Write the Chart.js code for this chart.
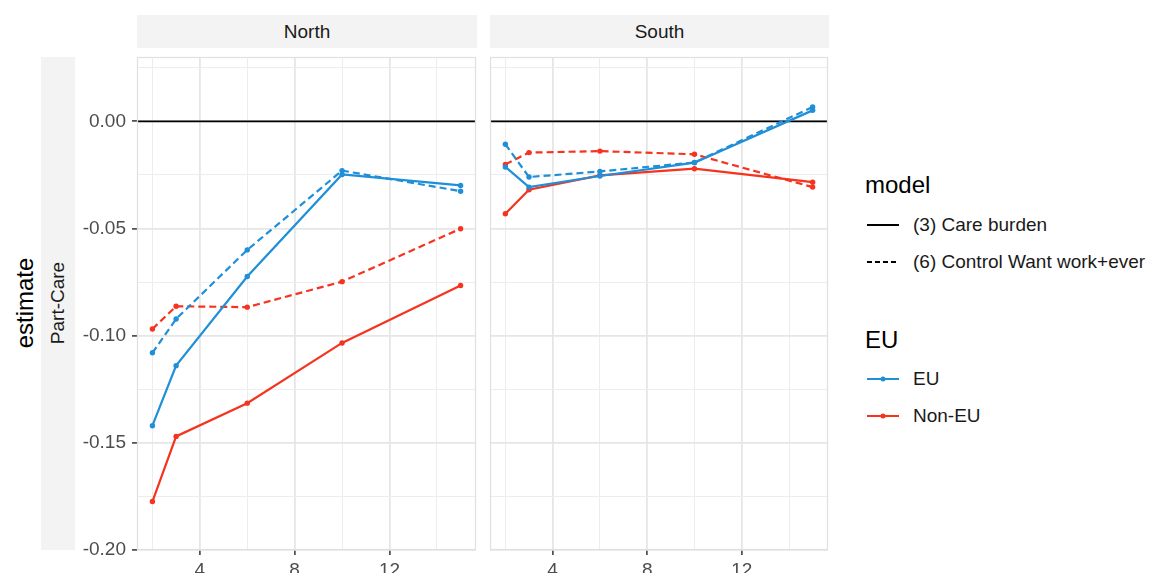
<!DOCTYPE html>
<html>
<head>
<meta charset="utf-8">
<script src="https://cdn.jsdelivr.net/npm/chart.js@4.4.1/dist/chart.umd.min.js"></script>
<style>
  html, body { margin: 0; padding: 0; background: #fff; }
  body { width: 1151px; height: 573px; overflow: hidden; position: relative; font-family: "Liberation Sans", Arial, sans-serif; }
  canvas { position: absolute; top: 0; }
  .abs { position: absolute; white-space: nowrap; }
  .strip { position: absolute; background: #F3F3F3; color: #1A1A1A; font-size: 19px; display: flex; align-items: center; justify-content: center; white-space: nowrap; }
  .leg { position: absolute; font-size: 19px; color: #1A1A1A; line-height: 22px; white-space: nowrap; }
  .legtitle { position: absolute; font-size: 24px; color: #000; line-height: 28px; }
  svg { position: absolute; }
</style>
</head>
<body>
<!-- facet strips -->
<div class="strip" style="left:137px; top:15px; width:340px; height:33px;">North</div>
<div class="strip" style="left:490px; top:15px; width:339px; height:33px;">South</div>
<div class="strip" style="left:41px; top:57px; width:34px; height:493px;"></div>
<div class="abs" style="left:58px; top:303px; font-size:19px; color:#1A1A1A; transform: translate(-50%,-50%) rotate(-90deg);">Part-Care</div>
<div class="abs" style="left:25px; top:303px; font-size:24px; color:#000; transform: translate(-50%,-50%) rotate(-90deg);">estimate</div>

<canvas id="north" width="480" height="600" style="left:0px;"></canvas>
<canvas id="south" width="352" height="600" style="left:480px;"></canvas>

<!-- legend -->
<div class="legtitle" style="left:865px; top:171px;">model</div>
<svg style="left:866px; top:215px;" width="34" height="20"><line x1="1" y1="10" x2="33" y2="10" stroke="#000" stroke-width="2"/></svg>
<div class="leg" style="left:913px; top:214px;">(3) Care burden</div>
<svg style="left:866px; top:252px;" width="34" height="20"><line x1="1" y1="10" x2="33" y2="10" stroke="#000" stroke-width="2" stroke-dasharray="5,3"/></svg>
<div class="leg" style="left:913px; top:251px;">(6) Control Want work+ever</div>

<div class="legtitle" style="left:865px; top:326px;">EU</div>
<svg style="left:866px; top:369px;" width="34" height="20"><line x1="1" y1="10" x2="33" y2="10" stroke="#1E8FD8" stroke-width="2"/><circle cx="17" cy="10" r="2.5" fill="#1E8FD8"/></svg>
<div class="leg" style="left:913px; top:368px;">EU</div>
<svg style="left:866px; top:406px;" width="34" height="20"><line x1="1" y1="10" x2="33" y2="10" stroke="#F5331F" stroke-width="2"/><circle cx="17" cy="10" r="2.5" fill="#F5331F"/></svg>
<div class="leg" style="left:913px; top:405px;">Non-EU</div>

<script>
// ---- data ----
const xValues = [2, 3, 6, 10, 15];

const northEU_care      = [-0.142, -0.114, -0.0724, -0.0248, -0.0299];
const northEU_control   = [-0.108, -0.0922, -0.060, -0.023, -0.0326];
const northNonEU_care   = [-0.1774, -0.147, -0.1315, -0.1034, -0.0766];
const northNonEU_control= [-0.0969, -0.0863, -0.0867, -0.0748, -0.0501];

const southEU_care      = [-0.0213, -0.0307, -0.0255, -0.0193, 0.0051];
const southEU_control   = [-0.0107, -0.026, -0.0234, -0.0192, 0.0067];
const southNonEU_care   = [-0.0431, -0.0319, -0.0252, -0.0221, -0.0284];
const southNonEU_control= [-0.0201, -0.0146, -0.0139, -0.0154, -0.0307];

const xMajorTicks = [4, 8, 12];
const xMinorTicks = [2, 6, 10, 14];
const yMajorTicks = [-0.20, -0.15, -0.10, -0.05, 0.00];
const yMinorTicks = [-0.175, -0.125, -0.075, -0.025, 0.025];

const xRange = [1.35, 15.65];
const yRange = [-0.20, 0.03];

const colEU = '#1E8FD8';
const colNonEU = '#F5331F';

// ---- helpers ----
function pts(arr) { return xValues.map((x, i) => ({ x: x, y: arr[i] })); }
function isMajor(v, list) { return list.some(m => Math.abs(m - v) < 1e-9); }

function ds(label, arr, color, dashed) {
  return {
    label: label,
    data: pts(arr),
    borderColor: color,
    backgroundColor: color,
    borderWidth: 2.2,
    borderDash: dashed ? [7, 4] : [],
    pointRadius: 2.7,
    pointBorderWidth: 0,
    pointBackgroundColor: color,
    tension: 0,
    fill: false
  };
}

const panelPlugin = {
  id: 'panel',
  beforeDatasetsDraw(chart) {
    const { ctx, chartArea, scales } = chart;
    ctx.save();
    const y0 = scales.y.getPixelForValue(0);
    ctx.strokeStyle = '#000';
    ctx.lineWidth = 1.8;
    ctx.beginPath();
    ctx.moveTo(chartArea.left, y0);
    ctx.lineTo(chartArea.right, y0);
    ctx.stroke();
    ctx.restore();
  },
  afterDraw(chart) {
    const { ctx, chartArea } = chart;
    ctx.save();
    ctx.strokeStyle = '#E0E0E0';
    ctx.lineWidth = 1.2;
    ctx.strokeRect(chartArea.left + 0.5, chartArea.top + 0.5, chartArea.right - chartArea.left - 1, chartArea.bottom - chartArea.top - 1);
    ctx.restore();
  }
};

function makeChart(id, datasets, showY, yWidth) {
  const font = { family: '"Liberation Sans", Arial, sans-serif', size: 19 };
  return new Chart(document.getElementById(id), {
    type: 'line',
    data: { datasets: datasets },
    plugins: [panelPlugin],
    options: {
      responsive: false,
      animation: false,
      devicePixelRatio: 1,
      layout: { padding: { top: 57, right: 3, left: 0, bottom: 0 } },
      plugins: { legend: { display: false }, tooltip: { enabled: false } },
      scales: {
        x: {
          type: 'linear',
          min: xRange[0], max: xRange[1],
          afterBuildTicks: (s) => { s.ticks = xMinorTicks.concat(xMajorTicks).sort((a, b) => a - b).map(v => ({ value: v })); },
          afterFit: (s) => { s.height = 50; },
          border: { display: false },
          grid: {
            color: (c) => (c.tick && isMajor(c.tick.value, xMajorTicks)) ? '#E6E6E6' : '#EDEDED',
            lineWidth: (c) => (c.tick && isMajor(c.tick.value, xMajorTicks)) ? 1.8 : 1,
            tickLength: 5,
            tickWidth: 1.5,
            tickColor: (c) => (c.tick && isMajor(c.tick.value, xMajorTicks)) ? '#333333' : 'rgba(0,0,0,0)'
          },
          ticks: {
            autoSkip: false,
            maxRotation: 0,
            padding: 4,
            color: '#4D4D4D',
            font: font,
            callback: (v) => isMajor(v, xMajorTicks) ? String(v) : ''
          }
        },
        y: {
          type: 'linear',
          min: yRange[0], max: yRange[1],
          afterBuildTicks: (s) => { s.ticks = yMinorTicks.concat(yMajorTicks).sort((a, b) => a - b).map(v => ({ value: v })); },
          afterFit: (s) => { s.width = yWidth; },
          border: { display: false },
          grid: {
            color: (c) => (c.tick && isMajor(c.tick.value, yMajorTicks)) ? '#E6E6E6' : '#EDEDED',
            lineWidth: (c) => (c.tick && isMajor(c.tick.value, yMajorTicks)) ? 1.8 : 1,
            drawTicks: showY,
            tickLength: 5,
            tickWidth: 1.5,
            tickColor: (c) => (showY && c.tick && isMajor(c.tick.value, yMajorTicks)) ? '#333333' : 'rgba(0,0,0,0)'
          },
          ticks: {
            display: showY,
            autoSkip: false,
            padding: 6,
            color: '#4D4D4D',
            font: font,
            callback: (v) => isMajor(v, yMajorTicks) ? v.toFixed(2) : ''
          }
        }
      }
    }
  });
}

makeChart('north', [
  ds('EU (3)', northEU_care, colEU, false),
  ds('EU (6)', northEU_control, colEU, true),
  ds('Non-EU (3)', northNonEU_care, colNonEU, false),
  ds('Non-EU (6)', northNonEU_control, colNonEU, true)
], true, 137);

makeChart('south', [
  ds('EU (3)', southEU_care, colEU, false),
  ds('EU (6)', southEU_control, colEU, true),
  ds('Non-EU (3)', southNonEU_care, colNonEU, false),
  ds('Non-EU (6)', southNonEU_control, colNonEU, true)
], false, 10);
</script>
</body>
</html>
